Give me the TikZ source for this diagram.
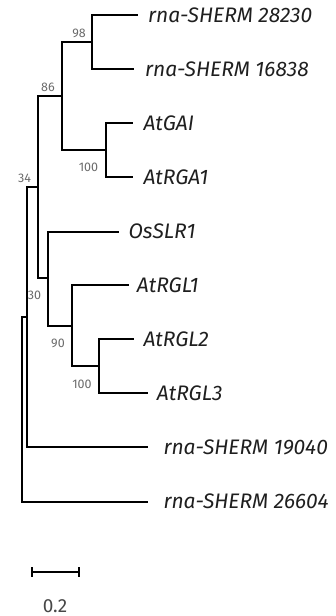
\documentclass[tikz,border=0pt]{standalone}
\usepackage{fontspec}
\setmainfont{Fira Sans}
\begin{document}
\begin{tikzpicture}[x=1pt,y=-1pt,
  branch/.style={line width=2pt,line join=miter,line cap=rect},
  taxon/.style={anchor=base west,inner sep=0pt,font=\fontsize{21}{22}\selectfont\itshape,text=black!88},
  boot/.style={inner sep=0pt,font=\fontsize{12.5}{13}\selectfont,text=black!58},
  scalelbl/.style={inner sep=0pt,font=\fontsize{19}{20}\selectfont,text=black!72}]
\useasboundingbox (0,0) rectangle (335,616);

% internal nodes
\coordinate (n98)   at (92.3,42);
\coordinate (ngai)  at (106,150);
\coordinate (n86)   at (61.7,96);
\coordinate (nrgl)  at (99,366);
\coordinate (n90)   at (71.7,325.7);
\coordinate (nos)   at (48.3,278);
\coordinate (nmid)  at (38.3,187);
\coordinate (n34)   at (26.7,317);
\coordinate (root)  at (21.7,409);

% tips
\coordinate (t1)  at (136.7,15);
\coordinate (t2)  at (133,69);
\coordinate (t3)  at (131.7,123);
\coordinate (t4)  at (131.7,177);
\coordinate (t5)  at (118.3,231.7);
\coordinate (t6)  at (128.3,285);
\coordinate (t7)  at (133.3,339);
\coordinate (t8)  at (146.7,393);
\coordinate (t9)  at (146.7,447);
\coordinate (t10) at (146.7,501.7);

% branches
\draw[branch] (n98) |- (t1);
\draw[branch] (n98) |- (t2);
\draw[branch] (ngai) |- (t3);
\draw[branch] (ngai) |- (t4);
\draw[branch] (n86) |- (n98);
\draw[branch] (n86) |- (ngai);
\draw[branch] (nrgl) |- (t7);
\draw[branch] (nrgl) |- (t8);
\draw[branch] (n90) |- (t6);
\draw[branch] (n90) |- (nrgl);
\draw[branch] (nos) |- (t5);
\draw[branch] (nos) |- (n90);
\draw[branch] (nmid) |- (n86);
\draw[branch] (nmid) |- (nos);
\draw[branch] (n34) |- (nmid);
\draw[branch] (n34) |- (t9);
\draw[branch] (root) |- (n34);
\draw[branch] (root) |- (t10);

% taxon names
\node[taxon] (l1)  at (148,22.2) {rna-SHERM 28230};
\node[taxon] (l2)  at (145,76.2) {rna-SHERM 16838};
\node[taxon] (l3)  at (143.3,130.2) {AtGAI};
\node[taxon] (l4)  at (143.3,184.2) {AtRGA1};
\node[taxon] (l5)  at (128.3,238.9) {OsSLR1};
\node[taxon] (l6)  at (136.7,292.2) {AtRGL1};
\node[taxon] (l7)  at (143.3,346.2) {AtRGL2};
\node[taxon] (l8)  at (156.7,400.2) {AtRGL3};
\node[taxon] (l9)  at (163.3,454.2) {rna-SHERM 19040};
\node[taxon] (l10) at (163.3,508.9) {rna-SHERM 26604};

% bootstrap support
\node[boot] (b98)  at (79,33) {98};
\node[boot] (b86)  at (48,87.5) {86};
\node[boot] (b100a) at (88.5,167.5) {100};
\node[boot] (b34)  at (24.5,178.5) {34};
\node[boot] (b30)  at (34.5,295) {30};
\node[boot] (b90)  at (58,343) {90};
\node[boot] (b100b) at (82,384) {100};

% scale bar
\coordinate (s1) at (31.7,571.7);
\coordinate (s2) at (79,571.7);
\draw[branch,line cap=butt] (s1) -- (s2);
\draw[branch,line cap=butt] ([yshift=-5]s1) -- ([yshift=5]s1);
\draw[branch,line cap=butt] ([yshift=-5]s2) -- ([yshift=5]s2);
\node[scalelbl,anchor=base] (sl) at (55,612.5) {0.2};
\end{tikzpicture}
\end{document}
